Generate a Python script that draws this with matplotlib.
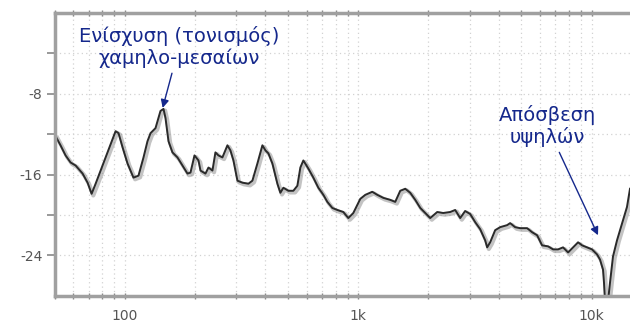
import numpy as np
import matplotlib.pyplot as plt
import matplotlib.patheffects as pe
from matplotlib.ticker import LogLocator, FixedLocator, FuncFormatter, NullFormatter

# frequency response (Hz, dB)
freq = [50.4, 52.9, 55.6, 58.4, 61.4, 65.8, 69.1, 71.9, 74.8, 78.6,
        82.5, 86.7, 91.1, 93.8, 97.6, 102.5, 108.7, 114.2, 120.0, 124.8,
        128.6, 135.1, 141.9, 146.2, 149.1, 153.6, 159.7, 167.8, 176.3, 185.2,
        190.8, 198.5, 206.5, 210.6, 221.2, 227.9, 237.0, 244.1, 251.4, 261.5,
        274.8, 283.0, 291.6, 303.3, 318.7, 338.1, 351.6, 369.4, 388.1, 399.8,
        411.8, 428.3, 450.0, 463.4, 477.3, 501.5, 526.8, 548.1, 564.5, 581.4,
        610.8, 641.7, 674.2, 708.3, 736.8, 774.0, 813.2, 862.7, 906.3, 952.0,
        1020, 1072, 1148, 1206, 1280, 1371, 1440, 1513, 1590, 1670,
        1755, 1844, 1975, 2034, 2180, 2312, 2477, 2603, 2735, 2872,
        3018, 3170, 3331, 3499, 3569, 3676, 3862, 4057, 4346, 4477,
        4703, 4941, 5294, 5562, 5843, 6138, 6512, 6841, 7187, 7550,
        7933, 8333, 8755, 9107, 9566, 10050, 10560, 10870, 11200, 11310,
        11420, 11770, 12000, 12360, 12860, 13250, 13650, 14190, 14620]
level = [-12.2, -13.1, -14.1, -14.8, -15.1, -15.9, -16.8, -17.9, -16.9, -15.6,
         -14.3, -13.0, -11.7, -11.9, -13.3, -14.9, -16.3, -16.1, -14.3, -12.7,
         -11.9, -11.4, -9.7, -9.5, -10.4, -12.7, -13.8, -14.3, -15.1, -15.9,
         -15.8, -14.1, -14.6, -15.6, -15.9, -15.3, -15.6, -13.8, -14.1, -14.3,
         -13.1, -13.6, -14.6, -16.6, -16.8, -16.9, -16.6, -14.9, -13.1, -13.6,
         -13.9, -14.9, -16.9, -17.8, -17.3, -17.6, -17.6, -17.1, -15.3, -14.6,
         -15.4, -16.3, -17.3, -18.0, -18.7, -19.3, -19.5, -19.7, -20.3, -19.8,
         -18.4, -18.0, -17.7, -18.0, -18.3, -18.5, -18.7, -17.6, -17.4, -17.8,
         -18.5, -19.3, -20.0, -20.3, -19.7, -19.8, -19.7, -19.5, -20.3, -19.6,
         -19.9, -20.7, -21.4, -22.5, -23.2, -22.7, -21.5, -21.2, -21.0, -20.8,
         -21.2, -21.3, -21.3, -21.7, -22.0, -23.0, -23.1, -23.4, -23.4, -23.2,
         -23.7, -23.2, -22.7, -23.0, -23.2, -23.4, -23.9, -24.4, -25.4, -26.7,
         -28.5, -28.5, -26.7, -24.1, -22.5, -21.5, -20.5, -19.2, -17.4]

y_major = [-8, -16, -24]
y_minor = [-4, -12, -20]

boost_label = "Ενίσχυση (τονισμός)\nχαμηλο-μεσαίων"
cut_label = "Απόσβεση\nυψηλών"

navy = "#15288c"
spine_gray = "#a0a0a0"

fig = plt.figure(figsize=(6.3, 3.23), dpi=100)
ax = fig.add_axes([0.087, 0.084, 0.913, 0.876])

ax.plot(freq, level, color="#2a2a2a", lw=1.4, solid_joinstyle="round",
        path_effects=[pe.SimpleLineShadow(offset=(1.2, -1.2), shadow_color="#888888", alpha=0.5, linewidth=3),
                      pe.Normal()])

ax.set_xscale("log")
ax.set_xlim(50, 14620)
ax.set_ylim(-28, 0)

ax.xaxis.set_major_locator(FixedLocator([100, 1000, 10000]))
ax.xaxis.set_major_formatter(FuncFormatter(lambda v, p: {100: "100", 1000: "1k", 10000: "10k"}.get(int(round(v)), "")))
ax.xaxis.set_minor_locator(LogLocator(base=10, subs=np.arange(2, 10)))
ax.xaxis.set_minor_formatter(NullFormatter())
ax.yaxis.set_major_locator(FixedLocator(y_major))
ax.yaxis.set_minor_locator(FixedLocator(y_minor))
ax.yaxis.set_major_formatter(FuncFormatter(lambda v, p: f"{int(v)}"))

ax.grid(True, which="both", axis="both", color="#d2d2d2", ls=(0, (1, 2.5)), lw=0.9)
ax.set_axisbelow(True)

for s in ["left", "bottom", "top"]:
    ax.spines[s].set_color(spine_gray)
    ax.spines[s].set_linewidth(2.5)
ax.spines["right"].set_visible(False)

ax.tick_params(axis="x", which="both", direction="inout", length=5, width=1, color="#888888",
               top=True, labelsize=10, labelcolor="#555555", pad=7)
ax.tick_params(axis="y", which="both", direction="out", length=6, width=1.2, color="#888888",
               labelsize=10, labelcolor="#555555", pad=3)

ax.annotate(boost_label, xy=(145, -9.4), xycoords="data",
            xytext=(179, 323 - 47), textcoords="figure pixels",
            ha="center", va="center", fontsize=14, color=navy, linespacing=1.13,
            arrowprops=dict(arrowstyle="-|>", color=navy, lw=1, mutation_scale=12, shrinkA=2, shrinkB=0))

ax.annotate(cut_label, xy=(10660, -22.0), xycoords="data",
            xytext=(547, 323 - 126), textcoords="figure pixels",
            ha="center", va="center", fontsize=14, color=navy, linespacing=1.13,
            arrowprops=dict(arrowstyle="-|>", color=navy, lw=1, mutation_scale=12, shrinkA=2, shrinkB=0))

fig.savefig("out.png", dpi=100)
